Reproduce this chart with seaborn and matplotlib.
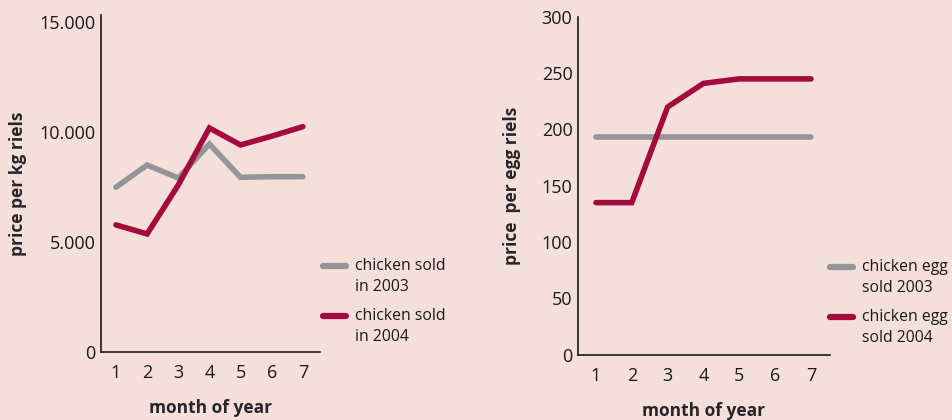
import numpy as np
import pandas as pd
import matplotlib.pyplot as plt
import seaborn as sns
from matplotlib.ticker import FuncFormatter
from matplotlib.legend_handler import HandlerLine2D

# data
months = [1, 2, 3, 4, 5, 6, 7]
chicken_2003 = [7480, 8490, 7900, 9440, 7930, 7960, 7960]
chicken_2004 = [5770, 5360, 7580, 10170, 9400, 9800, 10230]
egg_2003 = [193, 193, 193, 193, 193, 193, 193]
egg_2004 = [135, 135, 220, 241, 245, 245, 245]

chicken_labels = ["chicken sold\nin 2003", "chicken sold\nin 2004"]
egg_labels = ["chicken egg\nsold 2003", "chicken egg\nsold 2004"]

BG = "#f4dfdb"
GREY = "#939598"
RED = "#a50a3c"

sns.set_theme(style="white")
plt.rcParams["font.family"] = ["Open Sans", "DejaVu Sans"]
plt.rcParams["axes.facecolor"] = BG
plt.rcParams["figure.facecolor"] = BG


class FirstLineHandler(HandlerLine2D):
    # put the legend swatch next to the first line of a two-line label
    def create_artists(self, legend, orig_handle, xdescent, ydescent,
                       width, height, fontsize, trans):
        artists = super().create_artists(legend, orig_handle, xdescent, ydescent,
                                         width, height, fontsize, trans)
        for a in artists:
            a.set_ydata(np.asarray(a.get_ydata()) + 0.72 * fontsize)
            a.set_linewidth(4.5)
            a.set_solid_capstyle("round")
        return artists


fig = plt.figure(figsize=(9.53, 4.2), dpi=100)
ax1 = fig.add_axes([101 / 953, 1 - 352 / 420, 219 / 953, 337 / 420])
ax2 = fig.add_axes([578 / 953, 1 - 354.5 / 420, 252 / 953, 337.5 / 420])


def long_frame(a, b, labels):
    return pd.DataFrame({
        "month": months * 2,
        "price": a + b,
        "series": [labels[0]] * len(months) + [labels[1]] * len(months),
    })


def draw(ax, df, labels, anchor):
    sns.lineplot(data=df, x="month", y="price", hue="series",
                 palette={labels[0]: GREY, labels[1]: RED},
                 linewidth=4, legend=False, ax=ax,
                 solid_capstyle="round", solid_joinstyle="miter")
    for side in ["top", "right"]:
        ax.spines[side].set_visible(False)
    for side in ["left", "bottom"]:
        ax.spines[side].set_color("#1a1a1a")
        ax.spines[side].set_linewidth(1.2)
    ax.set_xticks(months)
    ax.tick_params(axis="x", length=0, pad=9, labelsize=13, colors="#1a1a1a")
    ax.tick_params(axis="y", length=0, pad=4, labelsize=13, colors="#1a1a1a")
    ax.set_xlabel("month of year", fontsize=12.5, fontweight="bold", labelpad=12)
    lines = ax.get_lines()
    leg = ax.legend(lines, labels, loc="upper left",
                    bbox_to_anchor=anchor, bbox_transform=fig.transFigure,
                    frameon=False, fontsize=11.3, handlelength=1.5,
                    handletextpad=0.55, borderpad=0, labelspacing=0.8,
                    handler_map={l: FirstLineHandler() for l in lines})
    for t in leg.get_texts():
        t.set_linespacing(1.45)
        t.set_color("#1a1a1a")


draw(ax1, long_frame(chicken_2003, chicken_2004, chicken_labels),
     chicken_labels, (315 / 953, 1 - 250 / 420))
ax1.set_xlim(0.52, 7.55)
ax1.set_ylim(0, 15300)
ax1.set_yticks([0, 5000, 10000, 15000])
ax1.yaxis.set_major_formatter(FuncFormatter(lambda v, p: f"{int(v):,}".replace(",", ".")))
ax1.set_ylabel("price per kg riels", fontsize=12.5, fontweight="bold", labelpad=9)

draw(ax2, long_frame(egg_2003, egg_2004, egg_labels),
     egg_labels, (822 / 953, 1 - 251 / 420))
ax2.set_xlim(0.5, 7.53)
ax2.set_ylim(0, 300)
ax2.set_yticks([0, 50, 100, 150, 200, 250, 300])
ax2.set_ylabel("price  per egg riels", fontsize=12.5, fontweight="bold", labelpad=15)

fig.savefig("out.png", dpi=100, facecolor=BG)
